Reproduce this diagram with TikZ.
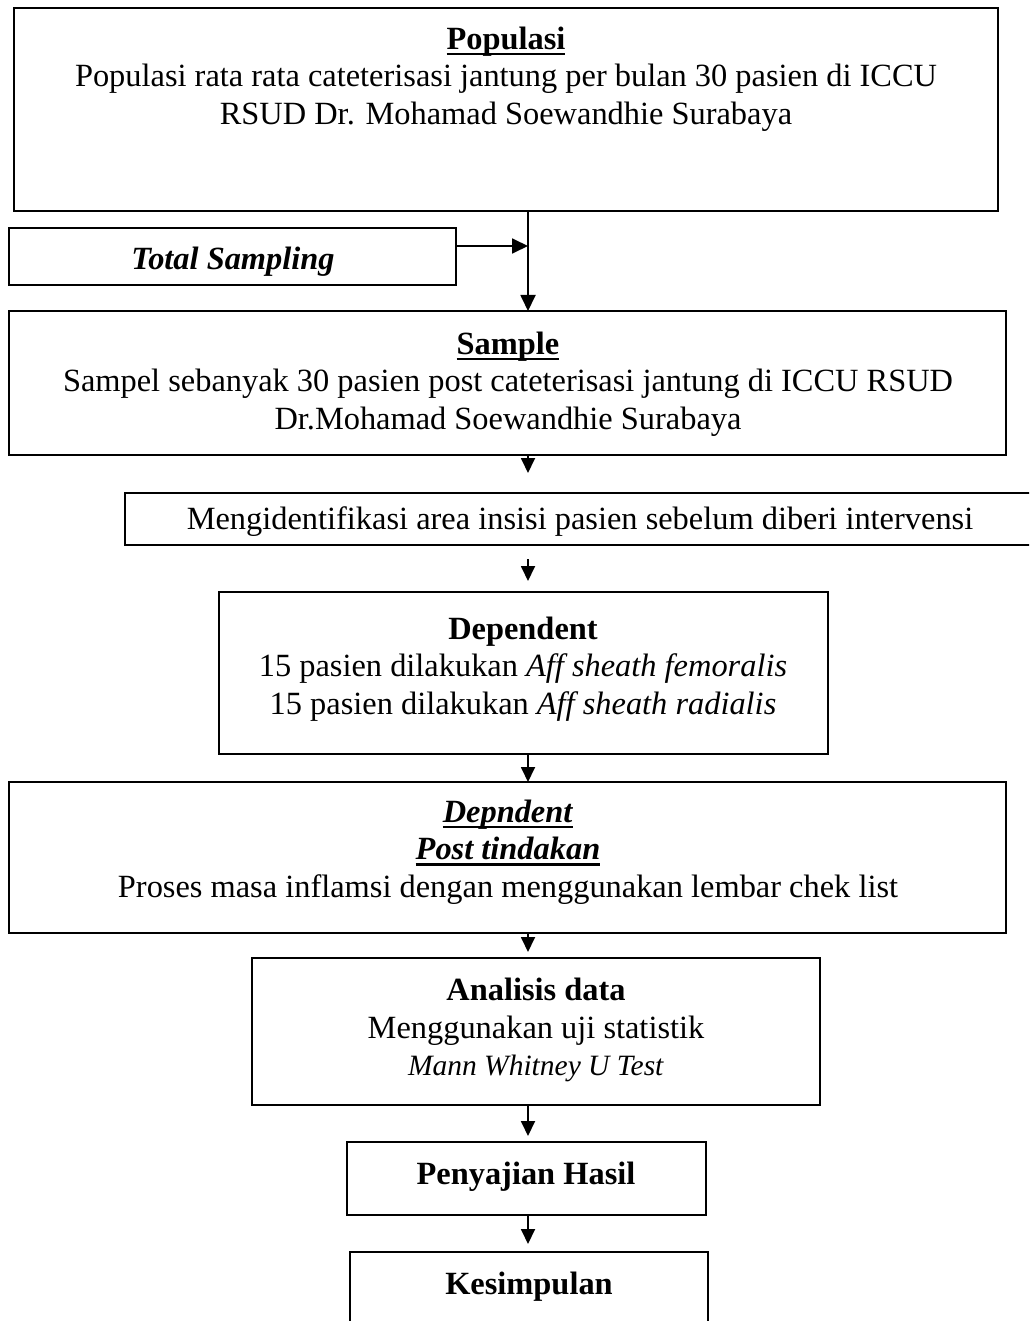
\documentclass[tikz,border=0pt]{standalone}
\usepackage{fontspec}
\setmainfont{Liberation Serif}
\usetikzlibrary{arrows.meta}
\newcommand\fsmain{\fontsize{32.4}{37.3}\selectfont}
\newcommand\fssmall{\fontsize{29.5}{35}\selectfont}
\newcommand\myul[1]{\setbox0\hbox{#1}\rlap{\rule[-6pt]{\wd0}{2.6pt}}\box0}
\begin{document}
\begin{tikzpicture}[x=1pt,y=-1pt,
  bx/.style={draw, line width=1.8pt, anchor=north west, inner sep=0pt, outer sep=0pt},
  txt/.style={align=center, font=\fsmain, inner sep=0pt},
  con/.style={line width=1.8pt},
  bigtip/.style={-{Triangle[length=16pt,width=15pt]}},
  smalltip/.style={-{Triangle[length=15pt,width=14pt]}}]
\useasboundingbox (0,0) rectangle (1029,1321);
\clip (0,0) rectangle (1029,1321);
% boxes
\node[bx, minimum width=984pt, minimum height=203pt] (pop) at (14,8) {};
\node[bx, minimum width=447pt, minimum height=57pt] (ts) at (9,228) {};
\node[bx, minimum width=997pt, minimum height=144pt] (samp) at (9,311) {};
\node[bx, minimum width=906pt, minimum height=52pt] (ident) at (125,493) {};
\node[bx, minimum width=609pt, minimum height=162pt] (dep) at (219,592) {};
\node[bx, minimum width=997pt, minimum height=151pt] (depn) at (9,782) {};
\node[bx, minimum width=568pt, minimum height=147pt] (anal) at (252,958) {};
\node[bx, minimum width=359pt, minimum height=73pt] (peny) at (347,1142) {};
\node[bx, minimum width=358pt, minimum height=120pt] (kes) at (350,1252) {};
% texts
\node[txt] (tpop) at (506,79) {\myul{\textbf{Populasi}}\\Populasi rata rata cateterisasi jantung per bulan 30 pasien di ICCU\\RSUD Dr. Mohamad Soewandhie Surabaya};
\node[txt] (tts) at (233,262) {\textbf{\textit{Total Sampling}}};
\node[txt] (tsamp) at (508,384) {\myul{\textbf{Sample}}\\Sampel sebanyak 30 pasien post cateterisasi jantung di ICCU RSUD\\Dr.Mohamad Soewandhie Surabaya};
\node[txt] (tident) at (580,522) {Mengidentifikasi area insisi pasien sebelum diberi intervensi};
\node[txt] (tdep) at (523,669) {\textbf{Dependent}\\15 pasien dilakukan \textit{Aff sheath femoralis}\\15 pasien dilakukan \textit{Aff sheath radialis}};
\node[txt] (tdepn) at (508,852) {\myul{\textbf{\textit{Depndent}}}\\\myul{\textbf{\textit{Post tindakan}}}\\Proses masa inflamsi dengan menggunakan lembar chek list};
\node[txt] (tanal) at (536,1030) {\textbf{Analisis data}\\Menggunakan uji statistik\\{\fssmall\textit{Mann Whitney U Test}}};
\node[txt] (tpeny) at (526,1177) {\textbf{Penyajian Hasil}};
\node[txt] (tkes) at (529,1287) {\textbf{Kesimpulan}};
% connectors
\coordinate (c1) at (528,0);
\coordinate (c2) at (528,0);
\draw[con, bigtip] (pop.south -| c1) -- (samp.north -| c1);
\draw[con, bigtip] (ts.east |- 0,246) -- (c1 |- 0,246);
\draw[con, smalltip, shorten >=20pt] (samp.south -| c2) -- (ident.north -| c2);
\draw[con, smalltip, shorten <=14pt, shorten >=11pt] (ident.south -| c2) -- (dep.north -| c2);
\draw[con, smalltip] (dep.south -| c2) -- (depn.north -| c2);
\draw[con, smalltip, shorten >=6pt] (depn.south -| c2) -- (anal.north -| c2);
\draw[con, smalltip, shorten >=6pt] (anal.south -| c2) -- (peny.north -| c2);
\draw[con, smalltip, shorten >=8pt] (peny.south -| c2) -- (kes.north -| c2);
\end{tikzpicture}
\end{document}
